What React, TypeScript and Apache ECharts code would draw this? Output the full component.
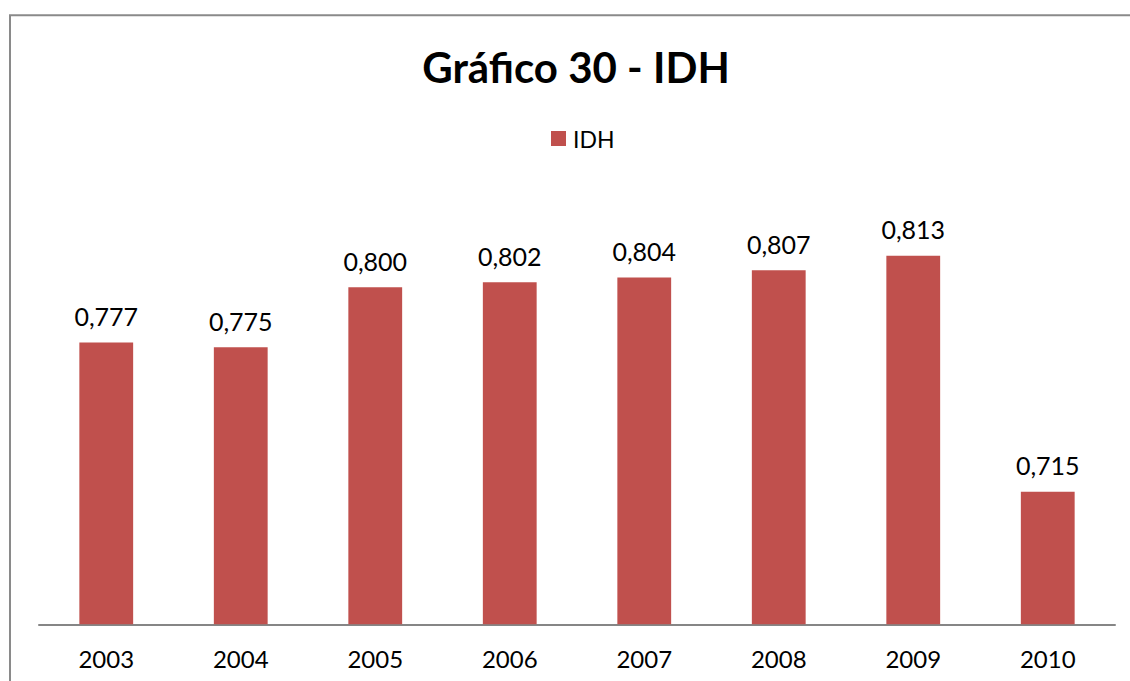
import React, { useEffect, useRef } from "react";
import * as echarts from "echarts";

const categories = ["2003", "2004", "2005", "2006", "2007", "2008", "2009", "2010"];
const idhValues = [0.777, 0.775, 0.8, 0.802, 0.804, 0.807, 0.813, 0.715];
const seriesName = "IDH";
const titleText = "Gráfico 30 - IDH";

const FONT = "Lato, 'Open Sans', sans-serif";

export default function App() {
  const ref = useRef<HTMLDivElement>(null);
  useEffect(() => {
    if (!ref.current) return;
    const chart = echarts.init(ref.current, null, { renderer: "svg" });
    chart.setOption({
      animation: false,
      backgroundColor: "#ffffff",
      textStyle: { fontFamily: FONT },
      graphic: [
        {
          type: "rect",
          shape: { x: 10, y: 15.3, width: 1300, height: 900 },
          style: { fill: "none", stroke: "#8a8a8a", lineWidth: 2 },
          silent: true,
          z: -1,
        },
        {
          type: "text",
          x: 576,
          y: 67,
          style: {
            text: titleText,
            fontFamily: FONT,
            fontWeight: "bold",
            fontSize: 42,
            fill: "#000000",
            textAlign: "center",
            textVerticalAlign: "middle",
          },
        },
      ],
      legend: {
        data: [seriesName],
        left: 546,
        top: 122,
        icon: "rect",
        itemWidth: 15,
        itemHeight: 15,
        itemGap: 6,
        textStyle: { fontFamily: FONT, fontSize: 23, color: "#000000", padding: [0, 0, 0, 2] },
      },
      grid: { left: 39, right: 15, top: 239, bottom: 56.7, containLabel: false },
      xAxis: {
        type: "category",
        data: categories,
        axisLine: { show: true, lineStyle: { color: "#868686", width: 2 } },
        axisTick: { show: false },
        axisLabel: { fontFamily: FONT, fontSize: 24, color: "#000000", margin: 22 },
      },
      yAxis: {
        type: "value",
        min: 0.66,
        max: 0.82,
        interval: 0.02,
        show: false,
        splitLine: { show: false },
      },
      series: [
        {
          name: seriesName,
          type: "bar",
          data: idhValues,
          barWidth: "40%",
          itemStyle: { color: "#C0504D" },
          label: {
            show: true,
            position: "top",
            distance: 14,
            fontFamily: FONT,
            fontSize: 25,
            color: "#000000",
            formatter: (p: any) => Number(p.value).toFixed(3).replace(".", ","),
          },
        },
      ],
    });
    return () => chart.dispose();
  }, []);
  return (
    <div
      ref={ref}
      style={{ position: "fixed", left: 0, top: 0, width: 1130, height: 681 }}
    />
  );
}
